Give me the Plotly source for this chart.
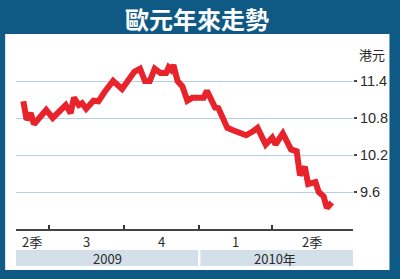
import datetime as dt
import plotly.graph_objects as go

# ---- data ----
dates = ["2009-05-31", "2009-06-04", "2009-06-09", "2009-06-13", "2009-06-28", "2009-07-06",
         "2009-07-22", "2009-07-28", "2009-08-01", "2009-08-07", "2009-08-11", "2009-08-16",
         "2009-08-25", "2009-08-31", "2009-09-08", "2009-09-18", "2009-09-29", "2009-10-08",
         "2009-10-14", "2009-10-21", "2009-10-27", "2009-11-02", "2009-11-08", "2009-11-15",
         "2009-11-22", "2009-11-25", "2009-11-28", "2009-12-01", "2009-12-06", "2009-12-12",
         "2009-12-18", "2009-12-24", "2009-12-30", "2010-01-07", "2010-01-11", "2010-01-21",
         "2010-01-25", "2010-01-31", "2010-02-05", "2010-02-12", "2010-02-20", "2010-02-28",
         "2010-03-08", "2010-03-14", "2010-03-24", "2010-04-01", "2010-04-05", "2010-04-14",
         "2010-04-24", "2010-05-01", "2010-05-05", "2010-05-11", "2010-05-15", "2010-05-24",
         "2010-05-28", "2010-06-03", "2010-06-07", "2010-06-13"]
eur_hkd = [11.07, 10.77, 10.88, 10.70, 10.93, 10.80,
           11.01, 10.88, 11.13, 11.01, 11.04, 10.95,
           11.08, 11.07, 11.23, 11.40, 11.27, 11.42,
           11.55, 11.60, 11.40, 11.40, 11.60, 11.53,
           11.53, 11.62, 11.58, 11.66, 11.40, 11.31,
           11.08, 11.13, 11.13, 11.13, 11.24, 10.97,
           10.96, 10.80, 10.64, 10.60, 10.55, 10.52,
           10.58, 10.64, 10.37, 10.48, 10.37, 10.55,
           10.29, 10.26, 9.87, 10.01, 9.73, 9.76,
           9.60, 9.53, 9.34, 9.43]

y_ticks = [9.6, 10.2, 10.8, 11.4]
y_tick_text = ["9.6", "10.2", "10.8", "11.4"]
quarter_bounds = ["2009-07-01", "2009-10-01", "2010-01-01", "2010-04-01"]
quarter_labels = ["2季", "3", "4", "1", "2季"]
year_labels = ["2009", "2010年"]
unit_label = "港元"
title_text = "歐元年來走勢"

# ---- layout geometry ----
W, H = 400, 279
L, R, T, B = 16, 42, 44, 50
x_range = ["2009-05-22", "2010-07-09"]
y_range = [9.0, 12.0]

pw, ph = W - L - R, H - T - B
def px2x(px):
    return (px - L) / pw
def px2y(py):
    return (H - B - py) / ph
d0 = dt.date.fromisoformat(x_range[0])
d1 = dt.date.fromisoformat(x_range[1])
def date2x(s):
    d = dt.date.fromisoformat(s)
    return (d - d0).days / (d1 - d0).days
def mid(a, b):
    da, db = dt.date.fromisoformat(a), dt.date.fromisoformat(b)
    return (da + (db - da) / 2).isoformat()

BLUE = "#0e5a84"
PANEL = "#d3dfe9"
TXT = "#2b2b2b"
CJK = "Noto Sans CJK TC, Liberation Sans, sans-serif"
LAT = "Liberation Sans, Arial, sans-serif"

fig = go.Figure()
fig.add_trace(go.Scatter(x=dates, y=eur_hkd, mode="lines",
                         line=dict(color="#e8232b", width=6),
                         hoverinfo="skip", showlegend=False))

shapes = []
# white panel
shapes.append(dict(type="rect", xref="paper", yref="paper",
                   x0=px2x(5), x1=px2x(395), y0=px2y(270), y1=px2y(34),
                   fillcolor="white", line=dict(width=0), layer="below"))
# year bands
bounds = [x_range[0]] + quarter_bounds + [x_range[1]]
year_edges = [(x_range[0], "2009-12-31"), ("2010-01-03", x_range[1])]
for (a, b) in year_edges:
    shapes.append(dict(type="rect", xref="paper", yref="paper",
                       x0=date2x(a), x1=date2x(b), y0=px2y(266), y1=px2y(250),
                       fillcolor=PANEL, line=dict(width=0), layer="below"))

annotations = [
    dict(text=f"<b>{title_text}</b>", xref="paper", yref="paper",
         x=px2x(200), y=px2y(18), showarrow=False,
         font=dict(family=CJK, size=24, color="white"), xanchor="center", yanchor="middle"),
    dict(text=unit_label, xref="paper", yref="paper", x=px2x(362), y=px2y(55),
         showarrow=False, font=dict(family=CJK, size=13, color=TXT),
         xanchor="left", yanchor="middle"),
]
for i, lab in enumerate(quarter_labels):
    annotations.append(dict(text=lab, xref="paper", yref="paper",
                            x=date2x(mid(bounds[i], bounds[i + 1])), y=px2y(241),
                            showarrow=False, font=dict(family=CJK, size=13, color=TXT),
                            xanchor="center", yanchor="middle"))
year_mids = [mid(x_range[0], "2010-01-01"), mid("2010-01-01", x_range[1])]
for lab, m in zip(year_labels, year_mids):
    annotations.append(dict(text=lab, xref="paper", yref="paper",
                            x=date2x(m), y=px2y(258), showarrow=False,
                            font=dict(family=CJK, size=13, color=TXT),
                            xanchor="center", yanchor="middle"))

fig.update_layout(
    width=W, height=H, margin=dict(l=L, r=R, t=T, b=B, pad=0),
    paper_bgcolor=BLUE, plot_bgcolor=PANEL,
    shapes=shapes, annotations=annotations,
    xaxis=dict(type="date", range=x_range, tickvals=quarter_bounds, showticklabels=False,
               ticks="inside", ticklen=4, tickwidth=2, tickcolor="#333",
               showgrid=False, zeroline=False, showline=True, linecolor="#444", linewidth=2,
               fixedrange=True),
    yaxis=dict(range=y_range, side="right", tickvals=y_ticks, ticktext=y_tick_text,
               ticks="outside", ticklen=3, tickwidth=1.5, tickcolor="#444",
               tickfont=dict(family=LAT, size=14.5, color=TXT),
               showgrid=True, gridcolor="#b4d0e8", gridwidth=1,
               zeroline=False, showline=False, fixedrange=True),
)

fig.write_html("out.html")
